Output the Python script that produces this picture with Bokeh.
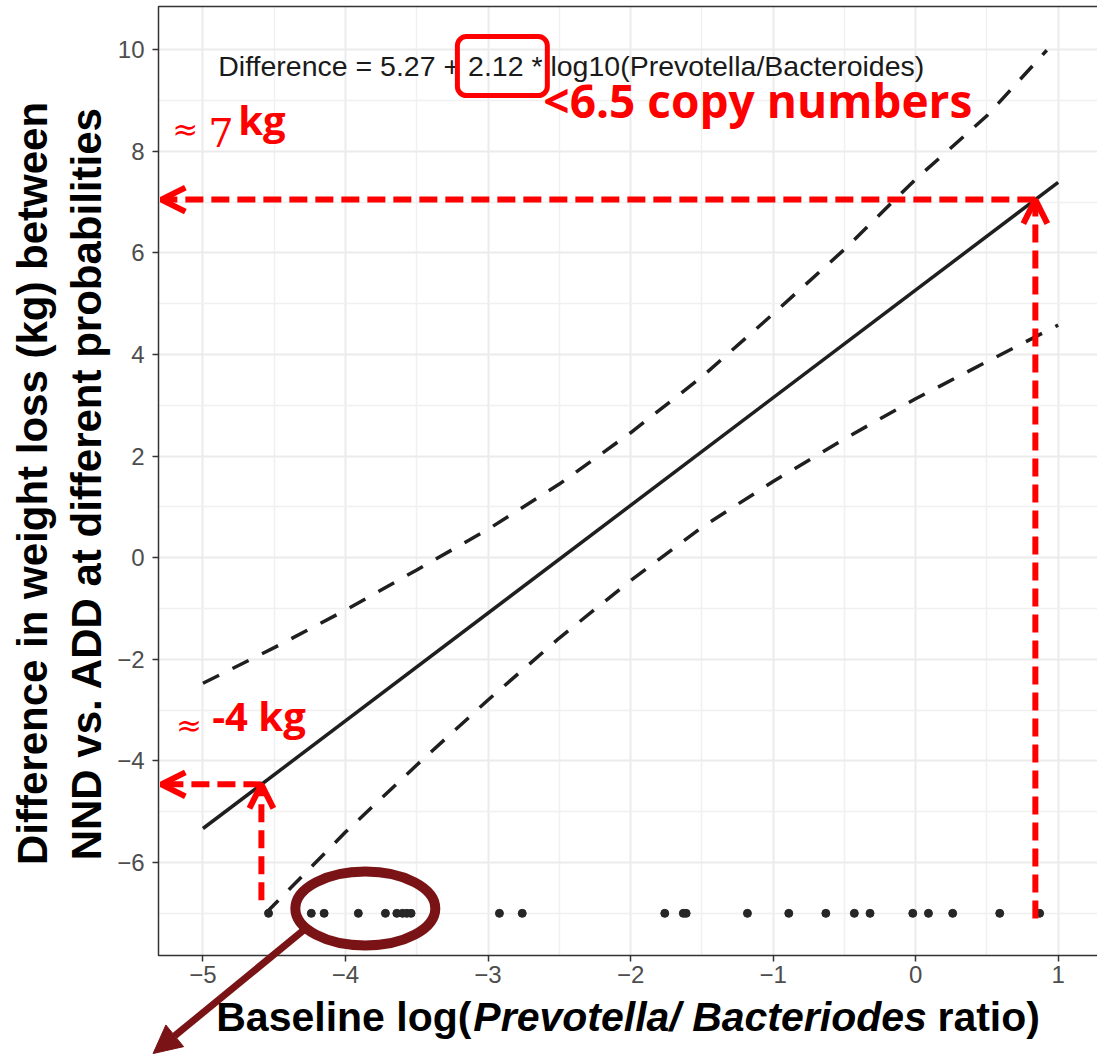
import numpy as np
from bokeh.plotting import figure
from bokeh.models import (Range1d, FixedTicker, Label, Arrow, OpenHead, NormalHead,
                          BoxAnnotation)
from bokeh.embed import file_html
from bokeh.resources import INLINE

# ---------------- data ----------------
fit_x = [-5.0, 1.0]
fit_y = [-5.33, 7.39]          # Difference = 5.27 + 2.12 * log10(P/B)

upper_x = [-5.0, -4.5, -4.0, -3.5, -3.0, -2.5, -2.0, -1.5, -1.0, -0.5, 0.0, 0.5, 0.92]
upper_y = [-2.47, -1.77, -1.03, -0.24, 0.56, 1.45, 2.46, 3.56, 4.80, 6.07, 7.45, 8.70, 9.99]

lower_x = [-4.56, -4.0, -3.5, -3.0, -2.5, -2.0, -1.5, -1.0, -0.5, 0.0, 0.5, 1.0]
lower_y = [-7.0, -5.40, -4.08, -2.80, -1.58, -0.45, 0.60, 1.50, 2.34, 3.13, 3.86, 4.58]

pts_x = [-4.54, -4.24, -4.15, -3.91, -3.72, -3.64, -3.60, -3.57, -3.54, -2.92, -2.76,
         -1.76, -1.63, -1.61, -1.18, -0.89, -0.63, -0.43, -0.32, -0.02, 0.09, 0.26,
         0.59, 0.87]
pts_y = [-7.0, -7.0, -7.0, -7.0, -7.0, -7.0, -7.0, -7.0, -7.0, -7.0, -7.0,
         -7.0, -7.0, -7.0, -7.0, -7.0, -7.0, -7.0, -7.0, -7.0, -7.0, -7.0,
         -7.0, -7.0]

x_ticks = [-5, -4, -3, -2, -1, 0, 1]
x_minor = [-4.5, -3.5, -2.5, -1.5, -0.5, 0.5]
y_ticks = [-6, -4, -2, 0, 2, 4, 6, 8, 10]
y_minor = [-7, -5, -3, -1, 1, 3, 5, 7, 9]

high_x = 0.84     # "<6.5 copy numbers" marker
low_x = -4.59     # lowest observed ratio marker

equation = "Difference = 5.27 + 2.12 * log10(Prevotella/Bacteroides)"
y_title_1 = "Difference in weight loss (kg) between"
y_title_2 = "NND vs. ADD at different probabilities"

# panel (ggplot) limits
PX0, PX1 = -5.312, 1.276
PY0, PY1 = -7.83, 10.852
# whole canvas mapped with the same scale as the panel
UX = 142.53
UY = 50.8
CX0, CX1 = PX0 - 158 / UX, PX1
CY0, CY1 = PY0 - 100 / UY, PY1 + 6 / UY

# ---------------- figure ----------------
p = figure(width=1097, height=1055, output_backend="svg", toolbar_location=None,
           x_range=Range1d(CX0, CX1), y_range=Range1d(CY0, CY1),
           min_border=0, min_border_left=0, min_border_right=0,
           min_border_top=0, min_border_bottom=0)
p.background_fill_color = "white"
p.border_fill_color = "white"
p.outline_line_color = None

xt = FixedTicker(ticks=x_ticks, minor_ticks=x_minor)
yt = FixedTicker(ticks=y_ticks, minor_ticks=y_minor)
p.xaxis.ticker = xt
p.yaxis.ticker = yt
p.xgrid.ticker = xt
p.ygrid.ticker = yt
for g in (p.xgrid, p.ygrid):
    g.grid_line_color = "#EBEBEB"
    g.grid_line_width = 2
    g.minor_grid_line_color = "#F0F0F0"
    g.minor_grid_line_width = 1.5

# white masks outside the panel (cover grid lines), then the panel border
for kw in (dict(left=CX0 - 1, right=PX0, bottom=CY0 - 1, top=CY1 + 1),
           dict(left=CX0 - 1, right=CX1 + 1, bottom=CY0 - 1, top=PY0),
           dict(left=CX0 - 1, right=CX1 + 1, bottom=PY1, top=CY1 + 1)):
    p.add_layout(BoxAnnotation(fill_color="white", fill_alpha=1, line_color=None,
                               level="underlay", **kw))
p.add_layout(BoxAnnotation(left=PX0, right=PX1 + 0.3, bottom=PY0, top=PY1,
                           fill_color=None, fill_alpha=0, line_color="#333333",
                           line_alpha=1, line_width=1.5, level="underlay"))

p.xaxis.fixed_location = PY0
p.yaxis.fixed_location = PX0
p.xaxis.bounds = (PX0, PX1)
p.yaxis.bounds = (PY0, PY1)
for ax in (p.xaxis, p.yaxis):
    ax.axis_line_color = None
    ax.major_tick_line_color = "#333333"
    ax.major_tick_line_width = 1.5
    ax.major_tick_out = 6
    ax.major_tick_in = 0
    ax.minor_tick_line_color = None
    ax.major_label_text_font = "Liberation Sans"
    ax.major_label_text_font_size = "24px"
    ax.major_label_text_color = "#4D4D4D"
p.xaxis.major_label_overrides = {t: str(t).replace("-", "\u2212") for t in x_ticks}
p.yaxis.major_label_overrides = {t: str(t).replace("-", "\u2212") for t in y_ticks}
p.xaxis.major_label_standoff = 4
p.yaxis.major_label_standoff = 8

# ---------------- data glyphs ----------------
p.line(fit_x, fit_y, line_color="#1F1F1F", line_width=3.5)
p.line(upper_x, upper_y, line_color="#1F1F1F", line_width=3.5, line_dash="18 15")
p.line(lower_x, lower_y, line_color="#1F1F1F", line_width=3.5, line_dash="18 15")
p.scatter(pts_x, pts_y, size=8, color="#262626")

# equation (ggplot annotation)
p.add_layout(Label(x=-4.893, y=9.69, text=equation, text_font="Liberation Sans",
                   text_font_size="28.5px", text_color="#1A1A1A", text_baseline="middle",
                   text_align="left"))
p.add_layout(BoxAnnotation(left=-3.215, right=-2.584, bottom=9.10, top=10.26,
                           fill_color=None, fill_alpha=0, line_color="#FF0000",
                           line_alpha=1, line_width=5, border_radius=9))

# ---------------- red arrows ----------------
RED = "#FF0000"
high_y = float(np.interp(high_x, fit_x, fit_y))
low_y = float(np.interp(low_x, fit_x, fit_y))
x_left = PX0 + 0.02


def red_arrow(xs, ys, xe, ye):
    p.add_layout(Arrow(end=OpenHead(line_color=RED, line_width=6, size=24),
                       x_start=xs, y_start=ys, x_end=xe, y_end=ye,
                       line_color=RED, line_width=6, line_dash="18 8"))


red_arrow(high_x, -7.1, high_x, high_y)
red_arrow(high_x, high_y, x_left, high_y)
red_arrow(low_x, -6.74, low_x, low_y)
red_arrow(low_x, low_y, x_left, low_y)

# red texts
p.add_layout(Label(x=-2.612, y=8.41, text="<6.5 copy numbers", text_font="Open Sans",
                   text_font_style="bold", text_font_size="46px", text_color=RED))
p.add_layout(Label(x=-5.215, y=8.077, text="\u2248", text_font="DejaVu Serif",
                   text_font_size="31px", text_color=RED))
p.add_layout(Label(x=-4.963, y=8.077, text="7", text_font="DejaVu Serif",
                   text_font_size="40px", text_color=RED))
p.add_layout(Label(x=-4.752, y=8.077, text="kg", text_font="Open Sans",
                   text_font_style="bold", text_font_size="40px", text_color=RED))
p.add_layout(Label(x=-5.190, y=-3.654, text="\u2248", text_font="DejaVu Serif",
                   text_font_size="31px", text_color=RED))
p.add_layout(Label(x=-4.935, y=-3.654, text="-4 kg", text_font="Open Sans",
                   text_font_style="bold", text_font_size="40px", text_color=RED))

# dark-red magnifier
DR = "#7A1315"
p.ellipse(x=[-3.861], y=[-6.904], width=0.982, height=1.457, fill_color=None,
          line_color=DR, line_width=10)
p.add_layout(Arrow(end=NormalHead(fill_color=DR, line_color=DR, size=28),
                   x_start=-4.28, y_start=-7.30, x_end=-5.35, y_end=-9.76,
                   line_color=DR, line_width=7))

# ---------------- axis titles ----------------
TF = "Liberation Sans"
p.add_layout(Label(x=-6.196, y=1.463, text=y_title_1, angle=np.pi / 2,
                   text_font=TF, text_font_style="bold", text_font_size="42px",
                   text_color="black", text_align="center", text_baseline="middle"))
p.add_layout(Label(x=-5.818, y=1.463, text=y_title_2, angle=np.pi / 2,
                   text_font=TF, text_font_style="bold", text_font_size="42px",
                   text_color="black", text_align="center", text_baseline="middle"))

xt_y = -9.50
p.add_layout(Label(x=-4.907, y=xt_y, text="Baseline log(", text_font=TF,
                   text_font_style="bold", text_font_size="41px", text_color="black"))
p.add_layout(Label(x=-3.103, y=xt_y, text="Prevotella/ Bacteriodes", text_font=TF,
                   text_font_style="bold italic", text_font_size="41px",
                   text_color="black"))
p.add_layout(Label(x=0.153, y=xt_y, text="ratio)", text_font=TF,
                   text_font_style="bold", text_font_size="41px", text_color="black"))

open("out.html", "w").write(file_html(p, INLINE))
